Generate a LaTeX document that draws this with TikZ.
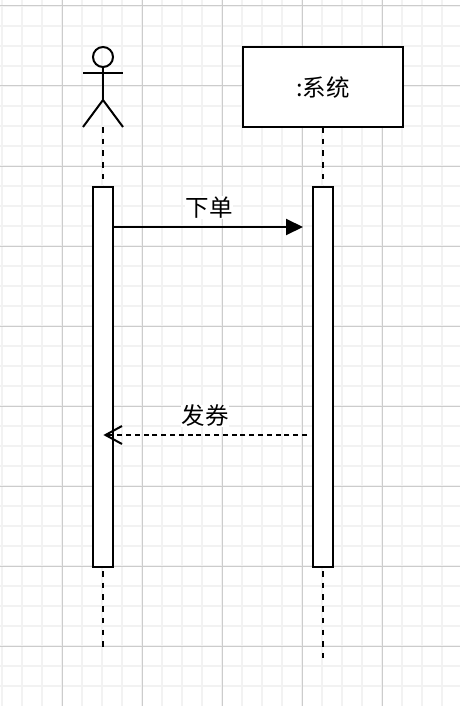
\documentclass[tikz,border=0pt]{standalone}
\usepackage{fontspec}
\setmainfont{Liberation Sans}
\newfontfamily\cjk{Noto Sans CJK SC}
\usetikzlibrary{arrows.meta}
\tikzset{
  minorgrid/.style={draw=black!5, line width=1.4pt},
  majorgrid/.style={draw=black!20, line width=1pt},
  ink/.style={draw=black, line width=2pt},
  lifeline/.style={ink, dash pattern=on 5.5pt off 6.2pt},
  msgtext/.style={inner sep=0.5pt, font=\cjk\fontsize{23.5}{26}\selectfont},
  activation/.style={ink, fill=white, minimum width=20pt, minimum height=380pt, inner sep=0pt, outer sep=0pt},
  sysbox/.style={ink, fill=white, minimum width=160pt, minimum height=80pt, inner sep=0pt, outer sep=0pt, font=\cjk\fontsize{23.5}{26}\selectfont}
}
\begin{document}
\begin{tikzpicture}[x=1pt,y=-1pt]
\useasboundingbox (0,0) rectangle (460,706);
\fill[white] (0,0) rectangle (460,706);
% grid
\foreach \gx in {2,22,...,442} {\draw[minorgrid] (\gx,0) -- (\gx,706);}
\foreach \gy in {6,26,...,686} {\draw[minorgrid] (0,\gy) -- (460,\gy);}
\foreach \gx in {62,142,222,302,382} {\draw[majorgrid] (\gx,0) -- (\gx,706);}
\foreach \gy in {6,86,166,246,326,406,486,566,646} {\draw[majorgrid] (0,\gy) -- (460,\gy);}
% actor
\node[ink, circle, minimum size=20pt, inner sep=0pt, outer sep=0pt] (head) at (103,57) {};
\coordinate (hip) at (103,100);
\coordinate (armL) at (83,73.5);
\coordinate (armR) at (123,73.5);
\coordinate (legL) at (83,127);
\coordinate (legR) at (123,127);
\coordinate (actorFoot) at (103,127);
\draw[ink] (head.south) -- (hip);
\draw[ink] (armL) -- (armR);
\draw[ink] (legL) -- (hip) -- (legR);
% system
\node[sysbox] (sys) at (323,87) {:系统};
% activations
\node[activation] (actA) at (103,377) {};
\node[activation] (actB) at (323,377) {};
% lifelines
\coordinate (endA) at (103,647);
\coordinate (endB) at (323,661);
\draw[lifeline] (actorFoot) -- (actA.north);
\draw[lifeline] (sys.south) -- (actB.north);
\draw[lifeline] ([yshift=-4pt]actA.south) -- (endA);
\draw[lifeline] ([yshift=-4pt]actB.south) -- (endB);
% messages
\coordinate (callEnd) at (303,227);
\coordinate (retStart) at (307,435);
\coordinate (retEnd) at (105.5,435);
\draw[ink, -{Triangle[length=17pt,width=16pt]}] (actA.east |- callEnd) -- (callEnd);
\draw[ink, dash pattern=on 5pt off 3.8pt] (retStart) -- (retEnd);
\draw[ink] (122,426) -- (retEnd) -- (122,444);
\node[msgtext, fill=white] (call) at (209,207.5) {下单};
\node[msgtext, fill=white] (ret) at (205,416) {发券};
\end{tikzpicture}
\end{document}
